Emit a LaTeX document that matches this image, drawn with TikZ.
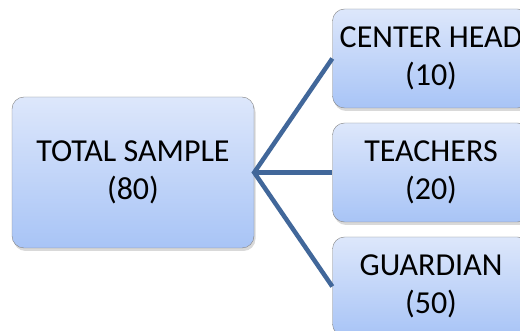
\documentclass[tikz,border=0pt]{standalone}
\usepackage{fontspec}
\setmainfont{Carlito}
\usetikzlibrary{shadows}
\definecolor{boxtop}{HTML}{DDE7FB}
\definecolor{boxbot}{HTML}{A8C4F6}
\definecolor{boxline}{HTML}{828282}
\definecolor{steel}{HTML}{41679A}
\tikzset{group/.style={draw=boxline,top color=boxtop,bottom color=boxbot,rounded corners=12pt,align=center,font=\fontsize{32}{38}\selectfont,inner sep=0pt,drop shadow={shadow xshift=1.5pt,shadow yshift=-3pt,opacity=0.3}}, branch/.style={draw=steel,line width=4.5pt}}

\begin{document}
\begin{tikzpicture}[x=1pt,y=1pt]
\useasboundingbox (0,0) rectangle (520,-331);
\node[group,minimum width=242pt,minimum height=151pt] (total) at (133,-172.5) {TOTAL SAMPLE\\(80)};
\node[group,minimum width=197pt,minimum height=99pt] (head) at (431,-58.5) {CENTER HEAD\\(10)};
\node[group,minimum width=197pt,minimum height=99pt] (teach) at (431,-172.5) {TEACHERS\\(20)};
\node[group,minimum width=197pt,minimum height=99pt] (guard) at (431,-286.5) {GUARDIAN\\(50)};
\draw[branch] (head.west) -- (total.east) -- (guard.west);
\draw[branch] (total.east) -- (teach.west);
\end{tikzpicture}
\end{document}
